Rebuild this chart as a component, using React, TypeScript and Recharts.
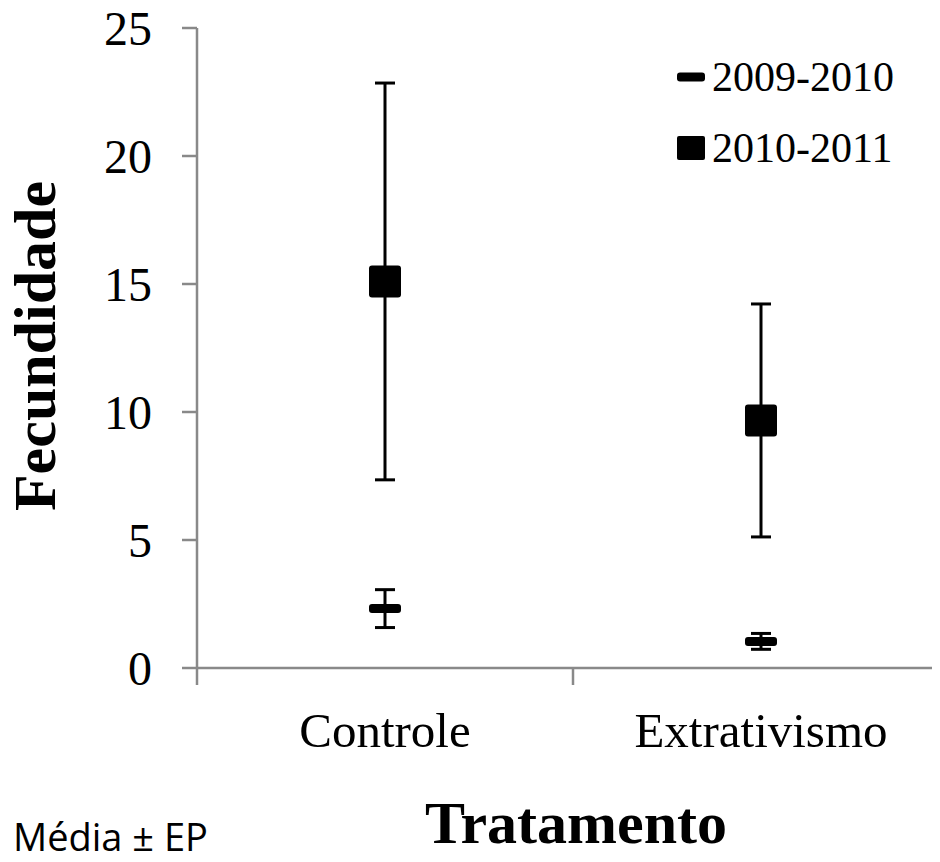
import { ComposedChart, Scatter, ErrorBar, XAxis, YAxis, Legend, Label } from 'recharts'

const treatments = ['Controle', 'Extrativismo']
const seasons = ['2009-2010', '2010-2011']
const fec0910 = [2.32, 1.04]
const ep0910 = [0.74, 0.31]
const fec1011 = [15.1, 9.67]
const ep1011 = [7.75, 4.55]
const yTicks = [0, 5, 10, 15, 20, 25]

const data = treatments.map((t, i) => ({
  trat: t,
  s0910: fec0910[i],
  e0910: ep0910[i],
  s1011: fec1011[i],
  e1011: ep1011[i],
}))

const SERIF = "'Liberation Serif', 'Times New Roman', serif"
const AXIS = '#898989'
const LABEL_GAP = 44

const DashMark = (p: any) => (
  <rect x={p.cx - 16} y={p.cy - 4.5} width={32} height={9} rx={3} fill="#000" />
)

const SquareMark = (p: any) => (
  <rect x={p.cx - 16} y={p.cy - 16} width={32} height={32} rx={3} fill="#000" />
)

// category label plus tick marks on the band edges (Excel style)
const CatTick = (props: any) => {
  const { x, y, payload, index, visibleTicksCount, width } = props
  const half = payload.offset || width / (2 * visibleTicksCount)
  const top = y - LABEL_GAP
  return (
    <g>
      <line x1={x - half} x2={x - half} y1={top} y2={top + 17} stroke={AXIS} strokeWidth={2.5} />
      {index === visibleTicksCount - 1 && (
        <line x1={x + half} x2={x + half} y1={top} y2={top + 17} stroke={AXIS} strokeWidth={2.5} />
      )}
      <text x={x} y={y} dy="0.71em" textAnchor="middle" fontFamily={SERIF} fontSize={49} fill="#000">
        {payload.value}
      </text>
    </g>
  )
}

const LegendBox = ({ payload }: any) => (
  <div>
    {(payload || []).map((p: any) => (
      <div key={p.value} style={{ display: 'flex', alignItems: 'center', height: 71 }}>
        <svg width={28} height={24}>
          {p.dataKey === 's0910'
            ? <rect x={0} y={7.5} width={28} height={9} rx={3} fill="#000" />
            : <rect x={0} y={0} width={28} height={24} rx={2} fill="#000" />}
        </svg>
        <span style={{ marginLeft: 7, fontFamily: SERIF, fontSize: 42, lineHeight: 1, color: '#000' }}>
          {p.value}
        </span>
      </div>
    ))}
  </div>
)

const YTitle = ({ viewBox }: any) => {
  const x = viewBox.x + 55
  const y = viewBox.y + viewBox.height / 2 - 2
  return (
    <text x={x} y={y} transform={`rotate(-90 ${x} ${y})`} textAnchor="middle"
      fontFamily={SERIF} fontWeight="bold" fontSize={60} fill="#000">
      Fecundidade
    </text>
  )
}

const XTitle = ({ viewBox }: any) => (
  <text x={viewBox.x + viewBox.width / 2 + 3} y={viewBox.y + 175} textAnchor="middle"
    fontFamily={SERIF} fontWeight="bold" fontSize={60} fill="#000">
    Tratamento
  </text>
)

export default function App() {
  return (
    <div style={{ position: 'relative', width: 940, height: 862, margin: -8, overflow: 'hidden', background: '#fff' }}>
      <ComposedChart width={960} height={862} data={data} margin={{ top: 28, right: 11, bottom: 0, left: 0 }}>
        <XAxis dataKey="trat" type="category" scale="band" height={194} interval={0}
          axisLine={{ stroke: AXIS, strokeWidth: 2.5 }} tickLine={false} tickSize={0} tickMargin={LABEL_GAP}
          tick={CatTick}>
          <Label content={<XTitle />} />
        </XAxis>
        <YAxis domain={[0, 25]} ticks={yTicks} width={197} tickSize={15} tickMargin={30}
          axisLine={{ stroke: AXIS, strokeWidth: 2.5 }} tickLine={{ stroke: AXIS, strokeWidth: 2.5 }}
          tick={{ fill: '#000', fontSize: 48, fontFamily: SERIF }}>
          <Label content={<YTitle />} />
        </YAxis>
        <Legend layout="vertical" align="center" verticalAlign="middle" content={<LegendBox />}
          wrapperStyle={{ position: 'absolute', left: 677, top: 41, width: 260 }} />
        <Scatter name={seasons[0]} dataKey="s0910" fill="#000" shape={DashMark} isAnimationActive={false}>
          <ErrorBar dataKey="e0910" direction="y" width={10} strokeWidth={3} stroke="#000" isAnimationActive={false} />
        </Scatter>
        <Scatter name={seasons[1]} dataKey="s1011" fill="#000" shape={SquareMark} isAnimationActive={false}>
          <ErrorBar dataKey="e1011" direction="y" width={10} strokeWidth={3} stroke="#000" isAnimationActive={false} />
        </Scatter>
      </ComposedChart>
      <svg width={260} height={62} style={{ position: 'absolute', left: 0, top: 800 }}>
        <text x={13} y={51} fontFamily="'Open Sans', 'Noto Sans', sans-serif" fontSize={38} fill="#000">
          Média ± EP
        </text>
      </svg>
    </div>
  )
}
